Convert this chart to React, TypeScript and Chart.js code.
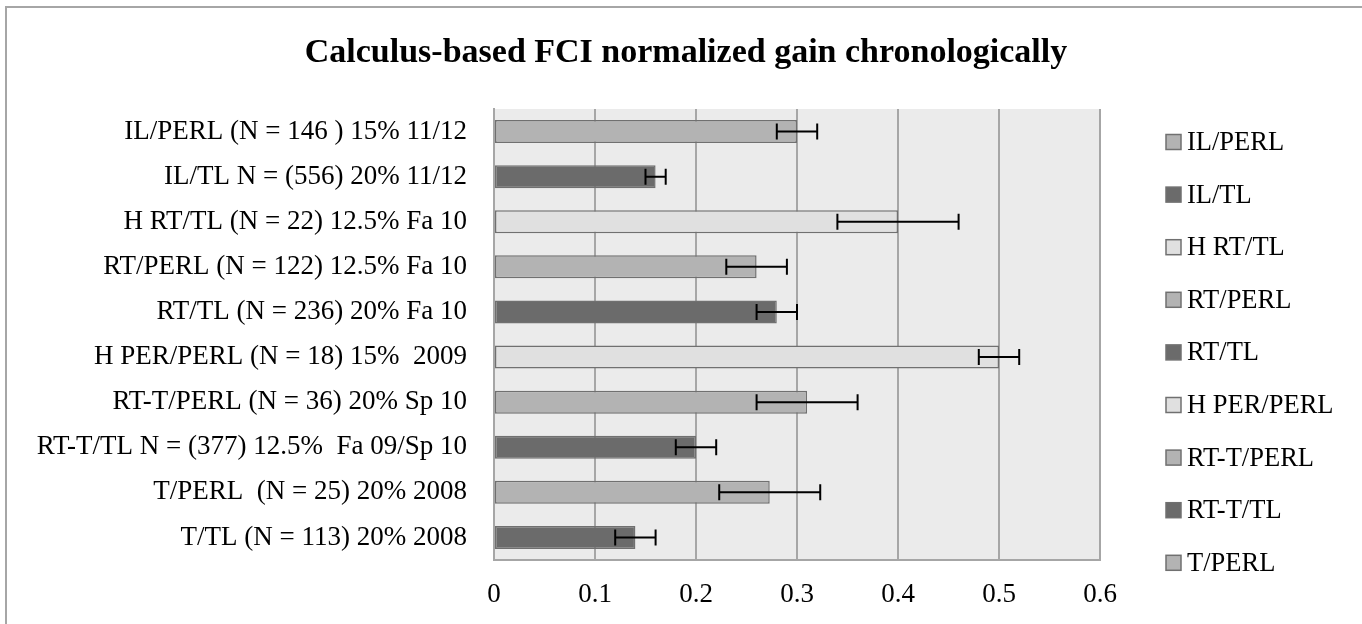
import React, { useEffect, useRef } from 'react';
import { Chart, registerables } from 'chart.js';

Chart.register(...registerables);

// ---- data ----
const chartTitle = 'Calculus-based FCI normalized gain chronologically';

const categories = [
  'IL/PERL (N = 146 ) 15% 11/12',
  'IL/TL N = (556) 20% 11/12',
  'H RT/TL (N = 22) 12.5% Fa 10',
  'RT/PERL (N = 122) 12.5% Fa 10',
  'RT/TL (N = 236) 20% Fa 10',
  'H PER/PERL (N = 18) 15%  2009',
  'RT-T/PERL (N = 36) 20% Sp 10',
  'RT-T/TL N = (377) 12.5%  Fa 09/Sp 10',
  'T/PERL  (N = 25) 20% 2008',
  'T/TL (N = 113) 20% 2008',
];

const seriesNames = [
  'IL/PERL',
  'IL/TL',
  'H RT/TL',
  'RT/PERL',
  'RT/TL',
  'H PER/PERL',
  'RT-T/PERL',
  'RT-T/TL',
  'T/PERL',
  'T/TL',
];

const gainValues = [0.30, 0.16, 0.40, 0.26, 0.28, 0.50, 0.31, 0.20, 0.273, 0.14];
const gainErrors = [0.02, 0.01, 0.06, 0.03, 0.02, 0.02, 0.05, 0.02, 0.05, 0.02];

const barColors = [
  '#b3b3b3',
  '#6b6b6b',
  '#e0e0e0',
  '#b3b3b3',
  '#6b6b6b',
  '#e0e0e0',
  '#b3b3b3',
  '#6b6b6b',
  '#b3b3b3',
  '#6b6b6b',
];

const xTickLabels = ['0', '0.1', '0.2', '0.3', '0.4', '0.5', '0.6'];
const legendVisibleCount = 9;

// ---- styling ----
const FONT = '"Liberation Serif", "Times New Roman", serif';
const AXIS_TEXT_SIZE = 27;
const LEGEND_TEXT_SIZE = 26.5;

const frameAndBackground = {
  id: 'frameAndBackground',
  beforeDraw(chart: any) {
    const { ctx, chartArea } = chart;
    ctx.save();
    ctx.fillStyle = '#ebebeb';
    ctx.fillRect(chartArea.left, chartArea.top, chartArea.right - chartArea.left, chartArea.bottom - chartArea.top);
    ctx.strokeStyle = '#a6a6a6';
    ctx.lineWidth = 2;
    ctx.beginPath();
    ctx.moveTo(6, chart.height + 10);
    ctx.lineTo(6, 7);
    ctx.lineTo(chart.width + 10, 7);
    ctx.stroke();
    ctx.restore();
  },
};

const errorBars = {
  id: 'errorBars',
  afterDatasetsDraw(chart: any) {
    const { ctx } = chart;
    const xScale = chart.scales.x;
    ctx.save();
    ctx.strokeStyle = '#000000';
    ctx.lineWidth = 2;
    chart.data.datasets.forEach((ds: any, i: number) => {
      const meta = chart.getDatasetMeta(i);
      meta.data.forEach((bar: any, j: number) => {
        const v = ds.data[j];
        if (v === null || v === undefined) return;
        const e = ds.errors[j];
        const x0 = xScale.getPixelForValue(v - e);
        const x1 = xScale.getPixelForValue(v + e);
        const y = bar.y;
        ctx.beginPath();
        ctx.moveTo(x0, y);
        ctx.lineTo(x1, y);
        ctx.moveTo(x0, y - 8);
        ctx.lineTo(x0, y + 8);
        ctx.moveTo(x1, y - 8);
        ctx.lineTo(x1, y + 8);
        ctx.stroke();
      });
    });
    ctx.restore();
  },
};

const sideLegend = {
  id: 'sideLegend',
  afterDraw(chart: any) {
    const { ctx, chartArea } = chart;
    const x = chartArea.right + 66;
    const y0 = chartArea.top + 33;
    const step = 52.6;
    const box = 15;
    ctx.save();
    ctx.font = `${LEGEND_TEXT_SIZE}px ${FONT}`;
    ctx.textBaseline = 'middle';
    ctx.textAlign = 'left';
    chart.data.datasets.slice(0, legendVisibleCount).forEach((ds: any, i: number) => {
      const y = y0 + i * step;
      ctx.fillStyle = ds.backgroundColor;
      ctx.fillRect(x, y - box / 2, box, box);
      ctx.strokeStyle = '#707070';
      ctx.lineWidth = 1.5;
      ctx.strokeRect(x, y - box / 2, box, box);
      ctx.fillStyle = '#000000';
      ctx.fillText(ds.label, x + 21, y + 1);
    });
    ctx.restore();
  },
};

export default function App() {
  const canvasRef = useRef<HTMLCanvasElement | null>(null);

  useEffect(() => {
    if (!canvasRef.current) return;
    const datasets = seriesNames.map((name, i) => ({
      label: name,
      data: categories.map((_, j) => (j === i ? gainValues[i] : null)),
      errors: categories.map((_, j) => (j === i ? gainErrors[i] : null)),
      backgroundColor: barColors[i],
      borderColor: '#707070',
      borderWidth: 1.5,
      borderSkipped: false,
      categoryPercentage: 1,
      barPercentage: 0.51,
      skipNull: true,
    }));

    const chart = new Chart(canvasRef.current, {
      type: 'bar',
      data: { labels: categories, datasets: datasets as any },
      plugins: [frameAndBackground, errorBars, sideLegend],
      options: {
        indexAxis: 'y',
        animation: false,
        responsive: true,
        maintainAspectRatio: false,
        layout: { padding: { left: 0, right: -10, top: 0, bottom: 0 } },
        plugins: {
          legend: { display: false },
          tooltip: { enabled: false },
          title: {
            display: true,
            text: chartTitle,
            color: '#000000',
            font: { family: FONT, size: 34, weight: 'bold', lineHeight: 1.2 },
            padding: { top: 33, bottom: 35.2 },
          },
        },
        scales: {
          x: {
            type: 'linear',
            position: 'bottom',
            min: 0,
            max: 0.6,
            ticks: {
              stepSize: 0.1,
              color: '#000000',
              font: { family: FONT, size: AXIS_TEXT_SIZE },
              padding: 19,
              maxRotation: 0,
              autoSkip: false,
              callback: (_v: any, i: number) => xTickLabels[i],
            },
            grid: { color: '#a6a6a6', lineWidth: 2, drawTicks: false },
            border: { display: true, color: '#a6a6a6', width: 2 },
            afterFit: (s: any) => {
              s.height = 64;
            },
          },
          y: {
            type: 'category',
            position: 'left',
            grid: { display: false, drawTicks: false },
            border: { display: true, color: '#a6a6a6', width: 2 },
            ticks: {
              color: '#000000',
              font: { family: FONT, size: AXIS_TEXT_SIZE },
              padding: 27,
              autoSkip: false,
            },
            afterFit: (s: any) => {
              s.width = 494;
            },
          },
          ySpacer: {
            type: 'linear',
            position: 'right',
            display: true,
            grid: { display: false, drawTicks: false },
            border: { display: false },
            ticks: { display: false },
            afterFit: (s: any) => {
              s.width = 272;
            },
          },
        },
      } as any,
    });
    return () => chart.destroy();
  }, []);

  return (
    <div style={{ position: 'fixed', left: 0, top: 0, width: 1362, height: 624, background: '#ffffff' }}>
      <canvas ref={canvasRef} />
    </div>
  );
}
